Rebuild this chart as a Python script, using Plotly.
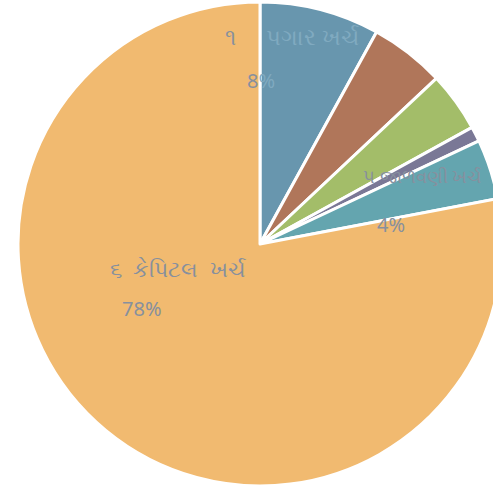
import plotly.graph_objects as go

labels = ["૧ પગાર ખર્ચ", "૨ વહીવટી ખર્ચ", "૩ મરામત ખર્ચ", "૪ અન્ય ખર્ચ", "૫ જાળવણી ખર્ચ", "૬ કેપિટલ ખર્ચ"]
values = [8, 5, 4, 1, 4, 78]
colors = ["#6896ae", "#b0765a", "#a3bd69", "#7a7896", "#64a5af", "#f1ba70"]

fig = go.Figure(go.Pie(
    labels=labels,
    values=values,
    sort=False,
    direction="clockwise",
    rotation=0,
    marker=dict(colors=colors, line=dict(color="white", width=3)),
    textinfo="none",
    showlegend=False,
    automargin=False,
))

TXT = "#87909e"
FAINT = "#80aac0"
pct_font = dict(color=TXT, size=20, family="Noto Sans")


def label_text(i, style):
    num, rest = labels[i].split(" ", 1)
    if style == "split":
        return f"{num}&nbsp;&nbsp;&nbsp;&nbsp;&nbsp;<span style='color:{FAINT}'>{rest}</span>"
    if style == "wide":
        return labels[i].replace(" ", "&nbsp;&nbsp;")
    return labels[i]


def pct_text(i, style):
    if style == "split":
        return f"{values[i]}<span style='color:{FAINT}'>%</span>"
    return f"{values[i]}%"


# (index, name position, percent position, style, name font size)
placements = [
    (0, (0.424, 0.930), (0.469, 0.837), "split", 23),
    (4, (0.708, 0.641), (0.738, 0.541), "plain", 18),
    (5, (0.186, 0.450), (0.211, 0.366), "wide", 22),
]
for i, (nx, ny), (px, py), style, size in placements:
    fig.add_annotation(x=nx, y=ny, xref="paper", yref="paper", text=label_text(i, style),
                       showarrow=False, xanchor="left", yanchor="middle",
                       font=dict(color=TXT, size=size, family="Noto Sans"))
    fig.add_annotation(x=px, y=py, xref="paper", yref="paper", text=pct_text(i, style),
                       showarrow=False, xanchor="left", yanchor="middle", font=pct_font)

fig.update_layout(
    width=540, height=492,
    margin=dict(l=18, r=38, t=2, b=6),
    paper_bgcolor="white",
    plot_bgcolor="white",
)

fig.write_html("out.html", config={"displayModeBar": False},
               post_script="document.body.style.overflow='hidden';document.body.style.margin='0';")
